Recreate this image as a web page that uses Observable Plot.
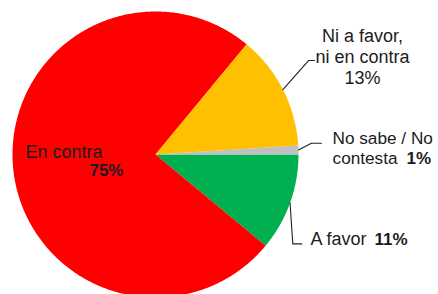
<!DOCTYPE html>
<html>
<head>
<meta charset="utf-8">
<script src="https://cdn.jsdelivr.net/npm/d3@7"></script>
<script src="https://cdn.jsdelivr.net/npm/@observablehq/plot@0.6"></script>
<style>
  html, body { margin: 0; padding: 0; background: #fff; overflow: hidden; }
  #chart svg { display: block; }
</style>
</head>
<body>
<div id="chart"></div>
<script>
// ---- data ----
const categories = ["A favor", "En contra", "Ni a favor, ni en contra", "No sabe / No contesta"];
const values = [11, 75, 13, 1];
const colors = ["#00B050", "#FF0000", "#FFC000", "#BFBFBF"];

// ---- label layout (pie units: centre 0,0, radius 1) ----
const leaderCats = ["Ni a favor, ni en contra", "No sabe / No contesta", "A favor"];
const leaderElbowX = [1.070, 1.090, 0.960];
const leaderElbowY = [0.657, 0.079, -0.625];
const leaderEndX = [1.112, 1.160, 1.023];

const labelTexts = ["Ni a favor,\nni en contra\n13%", "No sabe / No\ncontesta", "1%", "A favor", "11%", "En contra", "75%"];
const labelX = [1.448, 1.238, 1.755, 1.084, 1.531, -0.909, -0.462];
const labelY = [0.490, -0.063, -0.063, -0.636, -0.636, -0.021, -0.147];
const labelAnchor = ["middle", "start", "start", "start", "start", "start", "start"];
const labelBold = [false, false, true, false, true, false, true];
const labelSize = [18, 17.2, 17, 18, 17, 18, 17];
const labelLineHeight = [1.17, 1.15, 1, 1, 1, 1, 1];

// ---- geometry from data ----
const pie = d3.pie().sort(null).value(d => d.value)
  .startAngle(Math.PI / 2).endAngle(Math.PI / 2 + 2 * Math.PI);
const arcs = pie(categories.map((c, i) => ({key: c, value: values[i]})));

const polyPoints = [];
for (const a of arcs) {
  const key = a.data.key;
  polyPoints.push({key, x: 0, y: 0});
  const n = Math.max(4, Math.ceil((a.endAngle - a.startAngle) / (Math.PI / 360)));
  for (let k = 0; k <= n; k++) {
    const t = a.startAngle + (a.endAngle - a.startAngle) * k / n;
    polyPoints.push({key, x: Math.sin(t), y: Math.cos(t)});
  }
  polyPoints.push({key, x: 0, y: 0});
}

const leaderPoints = [];
leaderCats.forEach((c, i) => {
  const a = arcs.find(d => d.data.key === c);
  const m = (a.startAngle + a.endAngle) / 2;
  leaderPoints.push({key: c, x: Math.sin(m), y: Math.cos(m)});
  leaderPoints.push({key: c, x: leaderElbowX[i], y: leaderElbowY[i]});
  leaderPoints.push({key: c, x: leaderEndX[i], y: leaderElbowY[i]});
});

const labels = labelTexts.map((t, i) => ({
  text: t, x: labelX[i], y: labelY[i], anchor: labelAnchor[i], bold: labelBold[i],
  size: labelSize[i], lh: labelLineHeight[i]
}));

const chart = Plot.plot({
  width: 438,
  height: 294,
  margin: 0,
  style: {background: "#fff", fontFamily: "'Liberation Sans', Arial, sans-serif", overflow: "hidden"},
  x: {domain: [-1, 1], range: [12, 298], axis: null},
  y: {domain: [-1, 1], range: [297, 11], axis: null},
  color: {domain: categories, range: colors},
  marks: [
    Plot.line(polyPoints, {x: "x", y: "y", z: "key", fill: "key", stroke: "none", curve: "linear"}),
    Plot.line(leaderPoints, {x: "x", y: "y", z: "key", stroke: "#222", strokeWidth: 1.1, curve: "linear"}),
    ...labels.map(d =>
      Plot.text([d], {
        x: "x", y: "y", text: "text", textAnchor: d.anchor, lineAnchor: "bottom",
        lineHeight: d.lh, fontSize: d.size, fontWeight: d.bold ? "bold" : "normal",
        fill: d.bold ? "#1a1a26" : "#1c1c1c"
      }))
  ]
});
document.getElementById("chart").appendChild(chart);
</script>
</body>
</html>
